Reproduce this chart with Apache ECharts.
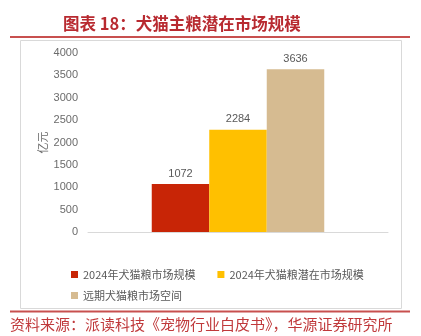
<!DOCTYPE html>
<html><head><meta charset="utf-8">
<script src="https://cdn.jsdelivr.net/npm/echarts@6/dist/echarts.min.js"></script>
<style>html,body{margin:0;padding:0;background:#fff}#c{width:421px;height:336px}</style>
</head><body><div id="c"></div>
<script>
const titleText = '图表 18：犬猫主粮潜在市场规模';
const sourceText = '资料来源：派读科技《宠物行业白皮书》，华源证券研究所';
const seriesNames = ['2024年犬猫粮市场规模', '2024年犬猫粮潜在市场规模', '远期犬猫粮市场空间'];
const seriesValues = [1072, 2284, 3636];
const seriesColors = ['#C82506', '#FFC000', '#D6BB91'];
const yTicks = [0, 500, 1000, 1500, 2000, 2500, 3000, 3500, 4000];
const yName = '亿元';

const chart = echarts.init(document.getElementById('c'), null, {renderer: 'canvas'});
const font = '"Liberation Sans", Arial, "Noto Sans CJK SC", sans-serif';
const cjk = '"Noto Sans CJK SC", sans-serif';
chart.setOption({
  animation: false,
  textStyle: {fontFamily: font},
  graphic: [
    {type: 'text', left: 63, top: 15, style: {text: titleText, font: 'bold 16.5px ' + cjk, fill: '#B82A30'}},
    {type: 'line', shape: {x1: 10, y1: 37, x2: 410, y2: 37}, style: {stroke: '#C8504F', lineWidth: 2}},
    {type: 'rect', shape: {x: 20.5, y: 40.5, width: 381, height: 268}, style: {fill: 'none', stroke: '#D9D9D9', lineWidth: 1}},
    {type: 'line', shape: {x1: 10, y1: 311.5, x2: 410, y2: 311.5}, style: {stroke: '#C8504F', lineWidth: 2}},
    {type: 'text', left: 10, top: 317, style: {text: sourceText, font: '15px ' + cjk, fill: '#C0393B'}}
  ],
  grid: {left: 88, right: 33, top: 53, bottom: 104},
  legend: [
    {data: seriesNames.slice(0, 2), left: 66, top: 264, itemWidth: 7, itemHeight: 7, itemGap: 22, icon: 'rect',
     textStyle: {fontSize: 11, color: '#595959', fontFamily: cjk}},
    {data: seriesNames.slice(2), left: 66, top: 285, itemWidth: 7, itemHeight: 7, icon: 'rect',
     textStyle: {fontSize: 11, color: '#595959', fontFamily: cjk}}
  ],
  xAxis: {type: 'category', data: [''], axisLine: {lineStyle: {color: '#D9D9D9'}}, axisTick: {show: false}, axisLabel: {show: false}},
  yAxis: {type: 'value', min: yTicks[0], max: yTicks[yTicks.length - 1], interval: 500,
    name: yName, nameLocation: 'middle', nameGap: 40, nameMoveOverlap: false,
    nameTextStyle: {fontSize: 11, color: '#6b6b6b', fontFamily: cjk},
    axisLine: {show: false}, axisTick: {show: false}, splitLine: {show: false},
    axisLabel: {fontSize: 11, color: '#6b6b6b', margin: 10, formatter: v => String(v)}},
  series: seriesNames.map((n, i) => ({
    name: n, type: 'bar', data: [seriesValues[i]], barWidth: 57.5, barGap: '0%',
    itemStyle: {color: seriesColors[i]},
    label: {show: true, position: 'top', distance: 5, fontSize: 11, color: '#595959'}
  }))
});
</script></body></html>
